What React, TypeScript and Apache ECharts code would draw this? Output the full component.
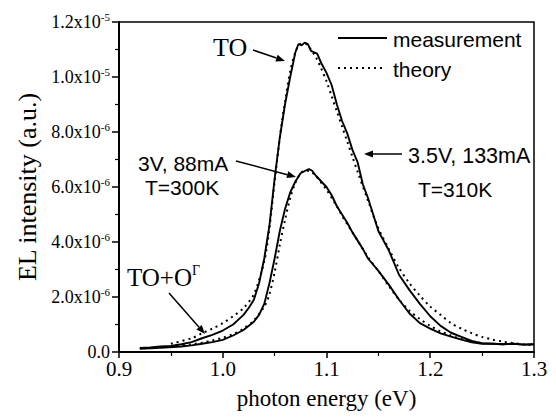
import React, { useEffect, useRef } from "react";
import * as echarts from "echarts";

// photon energy (eV) and EL intensity (units of 1e-6 a.u.)
const measHighX = [0.92, 0.93, 0.94, 0.95, 0.96, 0.97, 0.98, 0.99, 1.0, 1.01, 1.02, 1.025, 1.03, 1.035, 1.04, 1.045, 1.05, 1.055, 1.06, 1.065, 1.07, 1.073, 1.076, 1.079, 1.082, 1.085, 1.088, 1.091, 1.095, 1.1, 1.105, 1.11, 1.115, 1.12, 1.125, 1.13, 1.135, 1.14, 1.145, 1.15, 1.16, 1.17, 1.18, 1.19, 1.2, 1.21, 1.22, 1.23, 1.24, 1.25, 1.26, 1.27, 1.28, 1.29, 1.3];
const measHighY = [0.15, 0.17, 0.2, 0.22, 0.28, 0.36, 0.5, 0.62, 0.78, 1.0, 1.35, 1.6, 1.9, 2.5, 3.4, 4.6, 6.3, 7.8, 9.0, 10.0, 10.9, 11.2, 11.15, 11.25, 11.2, 10.95, 10.9, 10.85, 10.5, 10.15, 9.7, 9.0, 8.4, 7.95, 7.35, 6.9, 6.1, 5.6, 5.0, 4.4, 3.7, 2.8, 2.25, 1.75, 1.3, 0.95, 0.7, 0.55, 0.4, 0.32, 0.3, 0.28, 0.3, 0.27, 0.28];

const measLowX = [0.92, 0.94, 0.96, 0.97, 0.98, 0.99, 1.0, 1.01, 1.02, 1.03, 1.035, 1.04, 1.045, 1.05, 1.055, 1.06, 1.065, 1.07, 1.075, 1.08, 1.083, 1.086, 1.09, 1.095, 1.1, 1.105, 1.11, 1.115, 1.12, 1.125, 1.13, 1.135, 1.14, 1.15, 1.16, 1.17, 1.18, 1.19, 1.2, 1.21, 1.22, 1.23, 1.24, 1.25, 1.26, 1.27, 1.28, 1.29, 1.3];
const measLowY = [0.12, 0.15, 0.2, 0.24, 0.3, 0.36, 0.44, 0.6, 0.8, 1.1, 1.35, 1.75, 2.5, 3.4, 4.4, 5.2, 5.8, 6.2, 6.5, 6.6, 6.65, 6.6, 6.4, 6.2, 6.0, 5.7, 5.3, 5.0, 4.7, 4.35, 4.05, 3.75, 3.4, 2.95, 2.45, 1.9, 1.4, 1.05, 0.85, 0.68, 0.56, 0.45, 0.35, 0.3, 0.3, 0.28, 0.3, 0.27, 0.28];

const theoHighX = [0.95, 0.97, 0.98, 0.99, 1.0, 1.01, 1.02, 1.03, 1.04, 1.045, 1.05, 1.055, 1.06, 1.065, 1.07, 1.075, 1.08, 1.085, 1.09, 1.095, 1.1, 1.105, 1.11, 1.115, 1.12, 1.125, 1.13, 1.14, 1.15, 1.16, 1.17, 1.18, 1.19, 1.2, 1.21, 1.22, 1.23, 1.24, 1.25, 1.26, 1.27, 1.28, 1.29, 1.3];
const theoHighY = [0.3, 0.5, 0.68, 0.85, 1.05, 1.3, 1.6, 2.1, 3.3, 4.5, 6.2, 7.8, 9.1, 10.2, 10.9, 11.2, 11.2, 11.0, 10.7, 10.3, 9.85, 9.3, 8.75, 8.2, 7.65, 7.1, 6.55, 5.5, 4.5, 3.75, 3.05, 2.5, 2.05, 1.65, 1.35, 1.05, 0.85, 0.68, 0.55, 0.45, 0.38, 0.32, 0.28, 0.25];

const theoLowX = [0.95, 0.97, 0.98, 0.99, 1.0, 1.01, 1.02, 1.03, 1.04, 1.045, 1.05, 1.055, 1.06, 1.065, 1.07, 1.075, 1.08, 1.085, 1.09, 1.095, 1.1, 1.105, 1.11, 1.115, 1.12, 1.125, 1.13, 1.14, 1.15, 1.16, 1.17, 1.18, 1.19, 1.2, 1.21, 1.22, 1.23, 1.24, 1.25];
const theoLowY = [0.2, 0.28, 0.34, 0.42, 0.52, 0.65, 0.85, 1.15, 1.65, 2.1, 2.9, 3.9, 4.8, 5.6, 6.15, 6.5, 6.6, 6.55, 6.4, 6.15, 5.9, 5.6, 5.3, 4.95, 4.65, 4.35, 4.05, 3.45, 2.95, 2.4, 1.9, 1.5, 1.2, 0.95, 0.75, 0.6, 0.47, 0.38, 0.32];

const xTicks = [0.9, 1.0, 1.1, 1.2, 1.3];
const legendNames = ["measurement", "theory"];

const SERIF = "'Liberation Serif', 'Times New Roman', serif";
const SANS = "'Liberation Sans', Arial, sans-serif";

function pairs(xs: number[], ys: number[]) {
  return xs.map((x, i) => [x, ys[i] * 1e-6]);
}

function yFmt(v: number) {
  if (Math.abs(v) < 1e-12) return "{m|0.0}";
  const e = Math.floor(Math.log10(v) + 1e-9);
  const m = v / Math.pow(10, e);
  return `{m|${m.toFixed(1)}x10}{s|${e}}`;
}

function arrow(x1: number, y1: number, x2: number, y2: number) {
  const ang = Math.atan2(y2 - y1, x2 - x1);
  const L = 9, W = 3.5;
  const bx = x2 - L * Math.cos(ang), by = y2 - L * Math.sin(ang);
  const px = -Math.sin(ang) * W, py = Math.cos(ang) * W;
  return [
    { type: "line", shape: { x1, y1, x2: bx, y2: by }, style: { stroke: "#000", lineWidth: 1.5 } },
    { type: "polygon", shape: { points: [[x2, y2], [bx + px, by + py], [bx - px, by - py]] }, style: { fill: "#000" } },
  ];
}

export default function App() {
  const ref = useRef<HTMLDivElement>(null);
  useEffect(() => {
    if (!ref.current) return;
    const chart = echarts.init(ref.current, undefined, { renderer: "svg" });
    const solid = { color: "#000", width: 1.9, type: "solid" };
    const dotted = { color: "#000", width: 2, type: [2, 4] };
    chart.setOption({
      animation: false,
      backgroundColor: "#fff",
      grid: { left: 119, right: 22, top: 22, bottom: 65, show: true, borderColor: "#000", borderWidth: 1.5, backgroundColor: "transparent" },
      xAxis: {
        type: "value",
        min: 0.9,
        max: 1.3,
        interval: 0.1,
        name: "photon energy (eV)",
        nameLocation: "middle",
        nameGap: 35,
        nameTextStyle: { fontFamily: SERIF, fontSize: 23, color: "#000" },
        axisLine: { show: true, lineStyle: { color: "#000", width: 2 } },
        axisTick: { show: true, inside: false, length: 6, lineStyle: { color: "#000", width: 1.5 } },
        minorTick: { show: true, splitNumber: 2, length: 4, lineStyle: { color: "#000", width: 1.2 } },
        splitLine: { show: false },
        axisLabel: {
          fontFamily: SERIF, fontSize: 21, color: "#000", margin: 6,
          formatter: (v: number) => {
            const t = xTicks.find((k) => Math.abs(k - v) < 1e-6);
            return t !== undefined ? t.toFixed(1) : "";
          },
        },
      },
      yAxis: {
        type: "value",
        min: 0,
        max: 1.2e-5,
        interval: 2e-6,
        name: "EL intensity (a.u.)",
        nameLocation: "middle",
        nameGap: 78,
        nameTextStyle: { fontFamily: SERIF, fontSize: 26, color: "#000" },
        axisLine: { show: true, lineStyle: { color: "#000", width: 2 } },
        axisTick: { show: true, inside: false, length: 7, lineStyle: { color: "#000", width: 1.5 } },
        minorTick: { show: true, splitNumber: 2, length: 4, lineStyle: { color: "#000", width: 1.2 } },
        splitLine: { show: false },
        axisLabel: {
          margin: 9,
          formatter: yFmt,
          rich: {
            m: { fontFamily: SERIF, fontSize: 18, color: "#000" },
            s: { fontFamily: SERIF, fontSize: 11, color: "#000", padding: [0, 0, 10, 0] },
          },
        },
      },
      series: [
        { name: "measurement", type: "line", data: pairs(measHighX, measHighY), showSymbol: false, symbol: "none", lineStyle: solid, itemStyle: { color: "#000" }, z: 3 },
        { name: "measurement", type: "line", data: pairs(measLowX, measLowY), showSymbol: false, symbol: "none", lineStyle: solid, itemStyle: { color: "#000" }, z: 3 },
        { name: "theory", type: "line", data: pairs(theoHighX, theoHighY), showSymbol: false, symbol: "none", smooth: 0.3, lineStyle: dotted, itemStyle: { color: "#000" }, z: 2 },
        { name: "theory", type: "line", data: pairs(theoLowX, theoLowY), showSymbol: false, symbol: "none", smooth: 0.3, lineStyle: dotted, itemStyle: { color: "#000" }, z: 2 },
      ],
      graphic: [
        // legend
        { type: "line", shape: { x1: 338, y1: 38, x2: 387, y2: 38 }, style: { stroke: "#000", lineWidth: 1.9 } },
        { type: "text", style: { text: legendNames[0], x: 393, y: 39, fontFamily: SANS, fontSize: 21, fill: "#000", verticalAlign: "middle" } },
        { type: "line", shape: { x1: 338, y1: 68, x2: 386, y2: 68 }, style: { stroke: "#000", lineWidth: 2, lineDash: [2, 4] } },
        { type: "text", style: { text: legendNames[1], x: 393, y: 69, fontFamily: SANS, fontSize: 21, fill: "#000", verticalAlign: "middle" } },
        // annotations
        { type: "text", style: { text: "TO", x: 213, y: 47, fontFamily: SERIF, fontSize: 26, fill: "#000", verticalAlign: "middle" } },
        ...arrow(253, 50, 285, 61),
        { type: "text", style: { text: "3V, 88mA", x: 138, y: 163, fontFamily: SANS, fontSize: 21, fill: "#000", verticalAlign: "middle" } },
        { type: "text", style: { text: "T=300K", x: 145, y: 187, fontFamily: SANS, fontSize: 21, fill: "#000", verticalAlign: "middle" } },
        ...arrow(236, 161, 296, 177),
        { type: "text", style: { text: "3.5V, 133mA", x: 408, y: 156, fontFamily: SANS, fontSize: 21.5, fill: "#000", verticalAlign: "middle" } },
        { type: "text", style: { text: "T=310K", x: 418, y: 189, fontFamily: SANS, fontSize: 21, fill: "#000", verticalAlign: "middle" } },
        ...arrow(402, 154, 364, 154),
        {
          type: "text",
          style: {
            text: "{a|TO+O}{b|Γ}", x: 127, y: 277, verticalAlign: "middle",
            rich: {
              a: { fontFamily: SERIF, fontSize: 25, fill: "#000", color: "#000" },
              b: { fontFamily: SERIF, fontSize: 14, fill: "#000", color: "#000", padding: [0, 0, 14, 0] },
            },
          },
        },
        ...arrow(169, 293, 205, 334),
      ],
    });
    return () => chart.dispose();
  }, []);
  return <div ref={ref} style={{ position: "fixed", left: 0, top: 0, width: 556, height: 417 }} />;
}
